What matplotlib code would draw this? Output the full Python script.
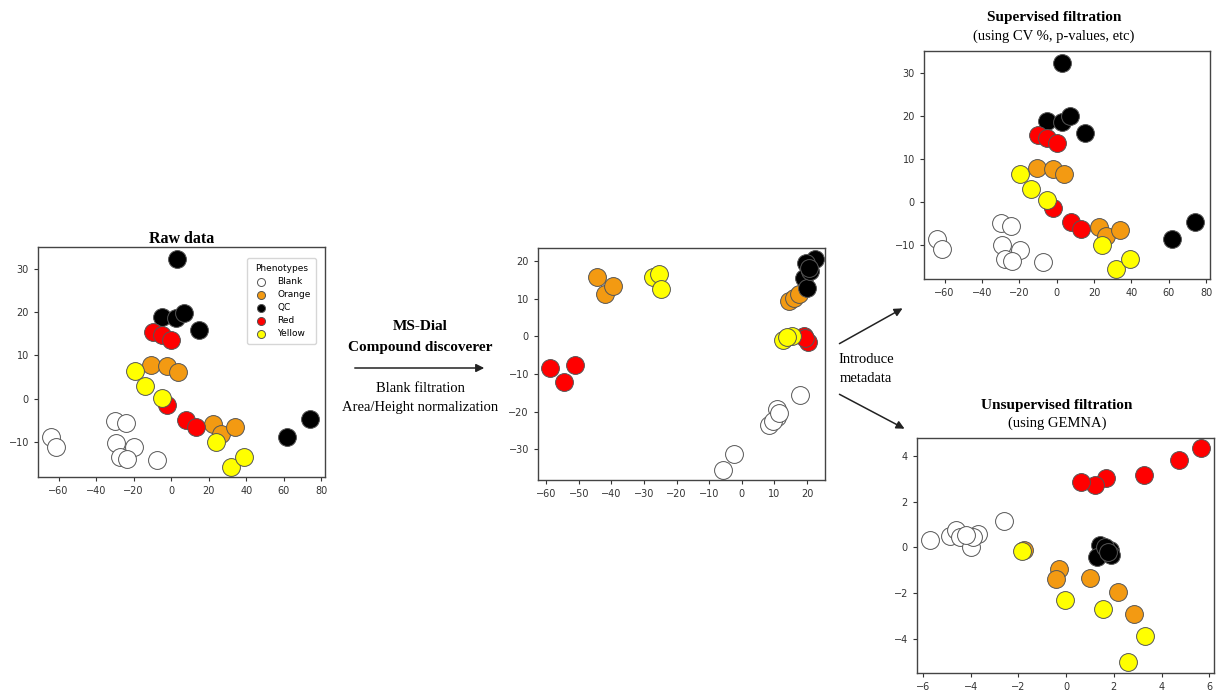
import matplotlib
matplotlib.use("Agg")
import matplotlib.pyplot as plt

# --- Datos ---
GROUPS = ["Blank", "Orange", "QC", "Red", "Yellow"]
COLORS = {"Blank": "white", "Orange": "#f39a12", "QC": "black",
          "Red": "#ff0000", "Yellow": "#ffff00"}

# Raw data (y tambien supervised, son iguales)
raw_blank_x = [-64, -61.6, -29.9, -24.3, -29.2, -19.9, -27.5, -23.8, -7.6]
raw_blank_y = [-8.8, -11, -5, -5.6, -10.2, -11.2, -13.3, -13.9, -14.1]
raw_orange_x = [-10.6, -2, 3.9, 22.4, 26.4, 34]
raw_orange_y = [7.8, 7.6, 6.3, -5.8, -8.1, -6.5]
raw_qc_x = [3, -5, 2.6, 7, 15, 61.6, 74]
raw_qc_y = [32.2, 18.8, 18.6, 19.9, 15.9, -8.8, -4.7]
raw_red_x = [-9.9, -5, 0, -2, 7.7, 13]
raw_red_y = [15.5, 14.8, 13.6, -1.5, -4.8, -6.4]
raw_yellow_x = [-19.4, -14, -5, 24, 31.7, 39]
raw_yellow_y = [6.5, 3, 0.3, -10, -15.6, -13.3]

# MS-Dial / Compound discoverer
ms_blank_x = [-5.9, -2.5, 8.2, 10.8, 10.8, 17.9, 9.5, 11.5]
ms_blank_y = [-35.6, -31.3, -23.6, -21.4, -19.2, -15.6, -22.5, -20.5]
ms_orange_x = [-44.3, -42, -39.6, 14.5, 16, 17.5]
ms_orange_y = [15.8, 11.2, 13.4, 9.5, 10.2, 11.3]
ms_qc_x = [22.3, 19.8, 19.2, 20, 21, 20.5]
ms_qc_y = [20.7, 19.4, 15.4, 12.8, 17.5, 18.3]
ms_red_x = [-58.8, -54.5, -51.1, 19.2, 20.2, 19.5]
ms_red_y = [-8.3, -12.1, -7.6, 0.2, -1.5, -0.5]
ms_yellow_x = [-27.3, -25.3, -24.8, 12.6, 15.4, 14]
ms_yellow_y = [15.8, 16.7, 12.7, -1.1, 0.2, -0.3]

# Unsupervised (GEMNA)
gem_blank_x = [-5.69, -4.88, -4.63, -4.45, -3.97, -3.69, -3.9, -2.62, -4.2]
gem_blank_y = [0.34, 0.5, 0.74, 0.45, 0.01, 0.6, 0.45, 1.15, 0.55]
gem_orange_x = [-0.29, -0.41, 0.99, 2.18, 2.84, -1.75]
gem_orange_y = [-0.93, -1.37, -1.33, -1.96, -2.93, -0.1]
gem_qc_x = [1.41, 1.83, 1.3, 1.9, 1.62, 1.75]
gem_qc_y = [0.09, -0.13, -0.42, -0.35, 0.01, -0.2]
gem_red_x = [5.64, 4.74, 3.26, 1.69, 1.2, 0.62]
gem_red_y = [4.36, 3.84, 3.15, 3.05, 2.74, 2.86]
gem_yellow_x = [-1.83, -0.06, 1.55, 3.3, 2.6]
gem_yellow_y = [-0.16, -2.29, -2.69, -3.9, -5.02]

W, H = 1219, 693
SERIF = "Liberation Serif"

fig = plt.figure(figsize=(W / 100, H / 100), dpi=100)


def add_axes_px(x0, y0, x1, y1):
    # posicion en pixeles (arriba-izquierda) -> fraccion de figura
    return fig.add_axes([x0 / W, 1 - y1 / H, (x1 - x0) / W, (y1 - y0) / H])


def scatter_panel(ax, data, xlim, ylim, xticks, yticks):
    for g in GROUPS:
        xs, ys = data[g]
        ax.scatter(xs, ys, s=165, c=COLORS[g], edgecolors="#555555",
                   linewidths=0.7, label=g, zorder=2)
    ax.set_xlim(*xlim)
    ax.set_ylim(*ylim)
    ax.set_xticks(xticks)
    ax.set_yticks(yticks)
    ax.tick_params(labelsize=7, length=3, colors="#333333")
    for s in ax.spines.values():
        s.set_color("#444444")
        s.set_linewidth(1.0)


raw_data = {"Blank": (raw_blank_x, raw_blank_y), "Orange": (raw_orange_x, raw_orange_y),
            "QC": (raw_qc_x, raw_qc_y), "Red": (raw_red_x, raw_red_y),
            "Yellow": (raw_yellow_x, raw_yellow_y)}
ms_data = {"Blank": (ms_blank_x, ms_blank_y), "Orange": (ms_orange_x, ms_orange_y),
           "QC": (ms_qc_x, ms_qc_y), "Red": (ms_red_x, ms_red_y),
           "Yellow": (ms_yellow_x, ms_yellow_y)}
gem_data = {"Blank": (gem_blank_x, gem_blank_y), "Orange": (gem_orange_x, gem_orange_y),
            "QC": (gem_qc_x, gem_qc_y), "Red": (gem_red_x, gem_red_y),
            "Yellow": (gem_yellow_x, gem_yellow_y)}

# --- Raw data ---
ax1 = add_axes_px(38, 247, 325, 477)
scatter_panel(ax1, raw_data, (-71, 82), (-18, 35), range(-60, 81, 20), range(-10, 31, 10))
ax1.set_title("Raw data", fontsize=11.5, fontweight="bold", family=SERIF, pad=2)
leg = ax1.legend(title="Phenotypes", loc="upper right", fontsize=6.5, title_fontsize=6.5,
                 markerscale=0.45, frameon=True, borderpad=0.6, labelspacing=0.45,
                 handletextpad=0.8, bbox_to_anchor=(0.985, 0.97))
leg.get_frame().set_edgecolor("#cccccc")

# --- MS-Dial ---
ax2 = add_axes_px(538, 248, 825, 480)
scatter_panel(ax2, ms_data, (-62.5, 25.5), (-38.2, 23.5), range(-60, 21, 10), range(-30, 21, 10))

# --- Supervised ---
ax3 = add_axes_px(924, 51, 1210, 279)
scatter_panel(ax3, raw_data, (-71, 82), (-18, 35), range(-60, 81, 20), range(-10, 31, 10))

# --- Unsupervised ---
ax4 = add_axes_px(917, 438, 1214, 673)
scatter_panel(ax4, gem_data, (-6.25, 6.2), (-5.5, 4.79), range(-6, 7, 2), range(-4, 5, 2))

# --- Textos y flechas ---
def ftext(x, y, s, **kw):
    fig.text(x / W, 1 - y / H, s, ha="center", va="center", family=SERIF, **kw)


ftext(420, 327, "MS-Dial", fontsize=11, fontweight="bold")
ftext(420, 348, "Compound discoverer", fontsize=11, fontweight="bold")
ftext(420, 388, "Blank filtration", fontsize=10.5)
ftext(420, 407, "Area/Height normalization", fontsize=10.5)
ftext(866, 360, "Introduce", fontsize=10.5)
ftext(866, 379, "metadata", fontsize=10.5)
ftext(1054, 18, "Supervised filtration", fontsize=11, fontweight="bold")
ftext(1054, 36, "(using CV %, p-values, etc)", fontsize=10.5)
ftext(1057, 405, "Unsupervised filtration", fontsize=11, fontweight="bold")
ftext(1057, 423, "(using GEMNA)", fontsize=10.5)


def farrow(x0, y0, x1, y1):
    fig.add_artist(matplotlib.patches.FancyArrowPatch(
        (x0 / W, 1 - y0 / H), (x1 / W, 1 - y1 / H), transform=fig.transFigure,
        arrowstyle="-|>", mutation_scale=12, color="#222222", lw=1.1))


farrow(352, 368, 487, 368)
farrow(837, 345, 905, 307)
farrow(837, 393, 907, 430)

plt.savefig("out.png", dpi=100)
